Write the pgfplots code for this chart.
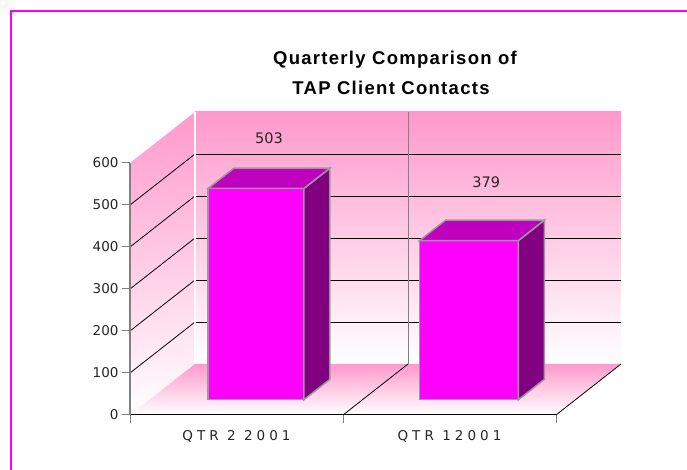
\documentclass[border=0pt]{standalone}
\usepackage{fontspec}
\usepackage{pgfplots}
\pgfplotsset{compat=1.18}
\setmainfont{DejaVu Sans}
\newfontfamily\titlefont[LetterSpace=7]{Liberation Sans}
\newfontfamily\xlabfont[LetterSpace=30]{DejaVu Sans}
\definecolor{wallpink}{HTML}{FF99CC}
\definecolor{barfront}{HTML}{FF00FF}
\definecolor{bartop}{HTML}{BF00BF}
\definecolor{barside}{HTML}{800080}
\definecolor{edgegray}{HTML}{999999}
\begin{document}
\begin{tikzpicture}[x=1pt,y=1pt]
\useasboundingbox (0,0) rectangle (687,470);
\fill[white] (0,0) rectangle (687,470);
\draw[line width=2pt, color=barfront] (11,-5) -- (11,459) -- (700,459);

\node[anchor=base, font=\titlefont\bfseries\fontsize{18.5}{21}\selectfont] at (395,405) {Quarterly Comparison of};
\node[anchor=base, font=\titlefont\bfseries\fontsize{18.5}{21}\selectfont] at (391,375) {TAP Client Contacts};

% pseudo-3D chart body
\begin{axis}[
  x={(213pt,0pt)}, y={(65pt,51pt)}, z={(0pt,0.42pt)},
  xmin=0, xmax=2, ymin=0, ymax=1, zmin=0, zmax=600,
  hide axis, clip=false,
  anchor=origin, at={(130pt,55pt)},
]
% side wall
\addplot3[draw=none, top color=wallpink, bottom color=white] coordinates {(0,0,0) (0,1,0) (0,1,600) (0,0,600)} -- cycle;
% back wall
\addplot3[draw=none, top color=wallpink, bottom color=white] coordinates {(0,1,0) (2,1,0) (2,1,600) (0,1,600)} -- cycle;
% floor
\addplot3[draw=none, top color=wallpink, bottom color=white] coordinates {(0,0,0) (2,0,0) (2,1,0) (0,1,0)} -- cycle;
% grid lines
\pgfplotsinvokeforeach{100,200,300,400,500}{
  \addplot3[black, line width=0.8pt] coordinates {(0,1,#1) (2,1,#1)};
  \addplot3[black, line width=0.8pt] coordinates {(0,0,#1) (0,1,#1)};
}
\addplot3[white, line width=1.5pt] coordinates {(0,1,0) (0,1,600)};
\addplot3[gray, line width=1pt] coordinates {(1,1,0) (1,1,600)};
\addplot3[black, line width=0.8pt] coordinates {(1,0,0) (1,1,0)};
\addplot3[black, line width=0.8pt] coordinates {(2,0,0) (2,1,0)};
% bar 1: QTR 2 2001 = 503
\addplot3[fill=barfront, draw=edgegray, line width=1.5pt] coordinates {(0.275,0.3,0) (0.725,0.3,0) (0.725,0.3,503) (0.275,0.3,503)} -- cycle;
\addplot3[fill=barside, draw=edgegray, line width=1.5pt] coordinates {(0.725,0.3,0) (0.725,0.7,0) (0.725,0.7,503) (0.725,0.3,503)} -- cycle;
\addplot3[fill=bartop, draw=edgegray, line width=1.5pt] coordinates {(0.275,0.3,503) (0.725,0.3,503) (0.725,0.7,503) (0.275,0.7,503)} -- cycle;
% bar 2: QTR 1 2001 = 379
\addplot3[fill=barfront, draw=edgegray, line width=1.5pt] coordinates {(1.268,0.3,0) (1.732,0.3,0) (1.732,0.3,379) (1.268,0.3,379)} -- cycle;
\addplot3[fill=barside, draw=edgegray, line width=1.5pt] coordinates {(1.732,0.3,0) (1.732,0.7,0) (1.732,0.7,379) (1.732,0.3,379)} -- cycle;
\addplot3[fill=bartop, draw=edgegray, line width=1.5pt] coordinates {(1.268,0.3,379) (1.732,0.3,379) (1.732,0.7,379) (1.268,0.7,379)} -- cycle;
% value labels
\node[font=\fontsize{14.5}{17}\selectfont, text=black!85] at (axis cs:0.5,0.5,599) {503};
\node[font=\fontsize{14.5}{17}\selectfont, text=black!85] at (axis cs:1.52,0.5,494) {379};
\end{axis}

% front axis with ticks and labels
\begin{axis}[
  scale only axis, width=426pt, height=252pt,
  anchor=south west, at={(130pt,55pt)},
  xmin=0, xmax=2, ymin=0, ymax=600,
  axis x line=bottom, axis y line=left,
  x axis line style={-, black, line width=1pt},
  y axis line style={-, gray, line width=1.5pt},
  xtick={0,1,2}, x tick label as interval,
  xticklabels={QTR 2 2001, QTR 12001},
  ytick={0,100,200,300,400,500,600},
  tick align=outside, major tick length=8pt,
  tick style={gray, line width=1pt},
  /pgf/number format/assume math mode=true,
  yticklabel style={font=\fontsize{13.5}{16}\selectfont, text=black!85},
  xticklabel style={font=\xlabfont\fontsize{13.5}{15}\selectfont, text=black!85, yshift=-4pt},
  clip=false,
]
\end{axis}
\end{tikzpicture}
\end{document}
